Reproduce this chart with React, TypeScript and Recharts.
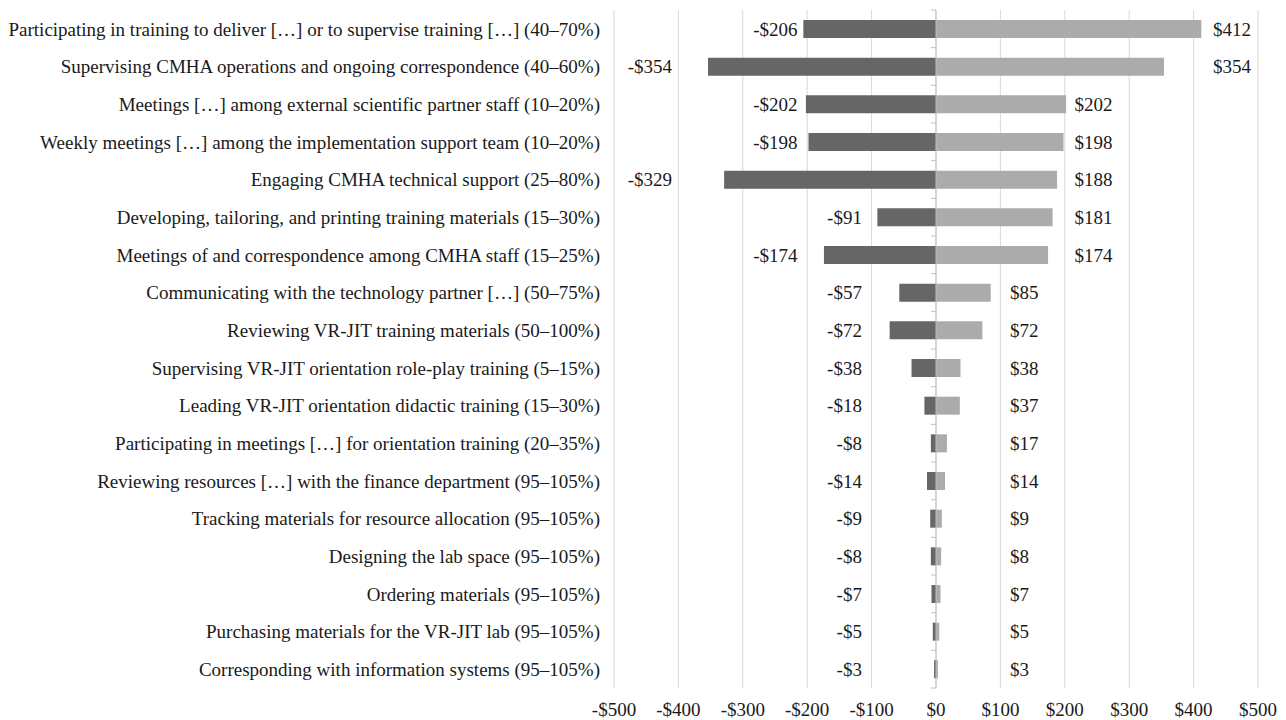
import { Bar, BarChart, CartesianGrid, LabelList, ReferenceLine, XAxis, YAxis } from "recharts";

const categories = [
  "Participating in training to deliver […] or to supervise training […] (40–70%)",
  "Supervising CMHA operations and ongoing correspondence (40–60%)",
  "Meetings […] among external scientific partner staff (10–20%)",
  "Weekly meetings […] among the implementation support team (10–20%)",
  "Engaging CMHA technical support (25–80%)",
  "Developing, tailoring, and printing training materials (15–30%)",
  "Meetings of and correspondence among CMHA staff (15–25%)",
  "Communicating with the technology partner […] (50–75%)",
  "Reviewing VR-JIT training materials (50–100%)",
  "Supervising VR-JIT orientation role-play training (5–15%)",
  "Leading VR-JIT orientation didactic training (15–30%)",
  "Participating in meetings […] for orientation training (20–35%)",
  "Reviewing resources […] with the finance department (95–105%)",
  "Tracking materials for resource allocation (95–105%)",
  "Designing the lab space (95–105%)",
  "Ordering materials (95–105%)",
  "Purchasing materials for the VR-JIT lab (95–105%)",
  "Corresponding with information systems (95–105%)",
];

const lowValues = [-206, -354, -202, -198, -329, -91, -174, -57, -72, -38, -18, -8, -14, -9, -8, -7, -5, -3];
const highValues = [412, 354, 202, 198, 188, 181, 174, 85, 72, 38, 37, 17, 14, 9, 8, 7, 5, 3];
const xTicks = [-500, -400, -300, -200, -100, 0, 100, 200, 300, 400, 500];

const data = categories.map((name, i) => ({ name, low: lowValues[i], high: highValues[i] }));

const FONT = "'Liberation Serif', 'Times New Roman', serif";
const TEXT = "#1a1a1a";
const CHART_W = 1278;
const CHART_H = 712;
const Y_W = 606;
const MARGIN = { top: 2, right: 28, bottom: 2, left: 0 };
const PLOT_W = CHART_W - MARGIN.left - MARGIN.right - Y_W;
const PPU = PLOT_W / 1000;
// label "slots" (in $ units from zero) — labels sit in the first slot clear of the bar
const NEG_SLOTS = [115, 215, 410];
const POS_SLOTS = [115, 215, 430];

const money = (v: number) => (v < 0 ? `-$${Math.abs(v)}` : `$${v}`);

function LowLabel(props: any) {
  const { x, y, width, height, value } = props;
  const zero = Math.max(x, x + width);
  const barLeft = Math.min(x, x + width);
  let lx = zero - NEG_SLOTS[NEG_SLOTS.length - 1] * PPU;
  for (const s of NEG_SLOTS) {
    const px = zero - s * PPU;
    if (px < barLeft - 3) { lx = px; break; }
  }
  return (
    <text x={lx} y={y + height / 2} dy="0.35em" textAnchor="end" fontSize={19} fontFamily={FONT} fill={TEXT}>
      {money(value)}
    </text>
  );
}

function HighLabel(props: any) {
  const { x, y, width, height, value } = props;
  const zero = Math.min(x, x + width);
  const barRight = Math.max(x, x + width);
  let lx = zero + POS_SLOTS[POS_SLOTS.length - 1] * PPU;
  for (const s of POS_SLOTS) {
    const px = zero + s * PPU;
    if (px > barRight + 3) { lx = px; break; }
  }
  return (
    <text x={lx} y={y + height / 2} dy="0.35em" textAnchor="start" fontSize={19} fontFamily={FONT} fill={TEXT}>
      {money(value)}
    </text>
  );
}

function ZeroAxis(props: any) {
  const { x1, y1, y2 } = props;
  const n = categories.length;
  const step = (y2 - y1) / n;
  return (
    <g>
      <line x1={x1} y1={y1} x2={x1} y2={y2} stroke="#bfbfbf" strokeWidth={1} />
      {Array.from({ length: n + 1 }, (_, i) => (
        <line key={i} x1={x1 - 5} y1={y1 + i * step} x2={x1} y2={y1 + i * step} stroke="#bfbfbf" strokeWidth={1} />
      ))}
    </g>
  );
}

export default function App() {
  return (
    <div style={{ width: CHART_W, height: CHART_H, background: "#fff" }}>
      <BarChart
        width={CHART_W}
        height={CHART_H}
        data={data}
        layout="vertical"
        stackOffset="sign"
        margin={MARGIN}
        barCategoryGap={0}
      >
        <CartesianGrid horizontal={false} stroke="#d9d9d9" />
        <XAxis
          type="number"
          domain={[-500, 500]}
          ticks={xTicks}
          tickFormatter={money}
          axisLine={false}
          tickLine={false}
          tickMargin={9}
          height={30}
          interval={0}
          tick={{ fontSize: 19, fontFamily: FONT, fill: TEXT }}
        />
        <YAxis
          type="category"
          dataKey="name"
          width={Y_W}
          axisLine={false}
          tickLine={false}
          tickMargin={8}
          interval={0}
          tick={{ fontSize: 19, fontFamily: FONT, fill: TEXT }}
        />
        <ReferenceLine x={0} shape={ZeroAxis} />
        <Bar dataKey="low" stackId="a" fill="#666666" barSize={18} isAnimationActive={false}>
          <LabelList dataKey="low" content={LowLabel} />
        </Bar>
        <Bar dataKey="high" stackId="a" fill="#ababab" barSize={18} isAnimationActive={false}>
          <LabelList dataKey="high" content={HighLabel} />
        </Bar>
      </BarChart>
    </div>
  );
}
